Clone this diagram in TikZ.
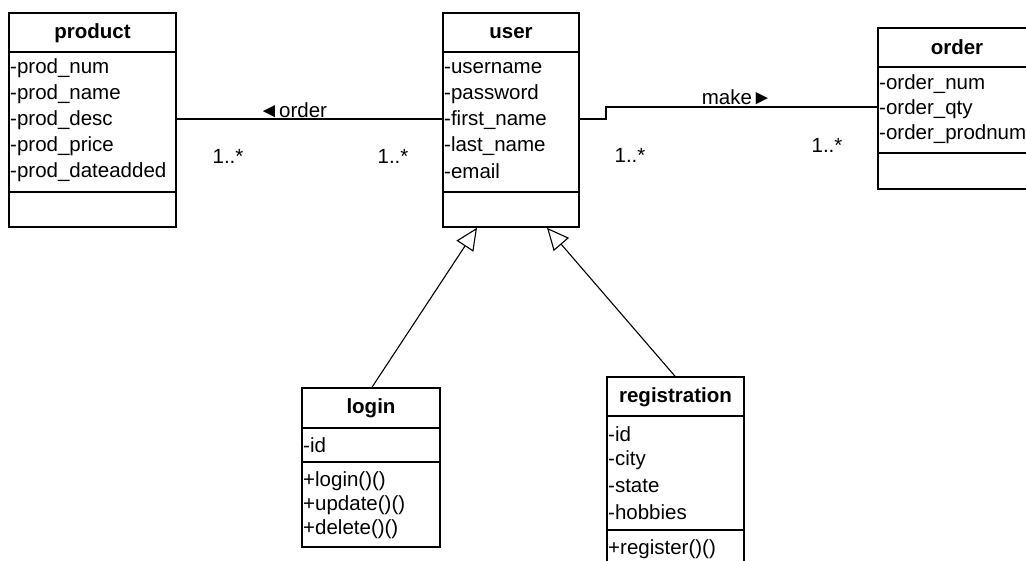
\documentclass[tikz,border=0pt]{standalone}
\usepackage{fontspec}
\setmainfont{Liberation Sans}
\usetikzlibrary{arrows.meta}
\begin{document}
\begin{tikzpicture}[x=1pt,y=-1pt,
  every node/.style={font=\fontsize{20.5}{24}\selectfont, inner sep=0pt},
  classbox/.style={draw, line width=1.6pt, fill=white},
  divider/.style={line width=1.3pt},
  title/.style={font=\fontsize{20.5}{24}\selectfont\bfseries},
  attr/.style={anchor=west},
  assoc/.style={line width=1.1pt},
  gen/.style={line width=1.1pt, -{Triangle[open, length=22pt, width=20pt, fill=white]}}
]
\useasboundingbox (0,0) rectangle (1026,560);

% product
\node[classbox, minimum width=167pt, minimum height=214pt] (product) at (92.5,120) {};
\node[title] (productT) at (92.5,33) {product};
\draw[divider] (product.west |- 0,52) -- (product.east |- 0,52);
\draw[divider] (product.west |- 0,192) -- (product.east |- 0,192);
\node[attr] (p1) at (10,68) {-prod\_num};
\node[attr] (p2) at (10,94) {-prod\_name};
\node[attr] (p3) at (10,120) {-prod\_desc};
\node[attr] (p4) at (10,146) {-prod\_price};
\node[attr] (p5) at (10,172) {-prod\_dateadded};

% user
\node[classbox, minimum width=136pt, minimum height=214pt] (user) at (511,120) {};
\node[title] (userT) at (511,33) {user};
\draw[divider] (user.west |- 0,52) -- (user.east |- 0,52);
\draw[divider] (user.west |- 0,192) -- (user.east |- 0,192);
\node[attr] (u1) at (444,68) {-username};
\node[attr] (u2) at (444,94) {-password};
\node[attr] (u3) at (444,120) {-first\_name};
\node[attr] (u4) at (444,146) {-last\_name};
\node[attr] (u5) at (444,171) {-email};

% order
\node[classbox, minimum width=158pt, minimum height=161pt] (order) at (957,108.5) {};
\node[title] (orderT) at (957,47) {order};
\draw[divider] (order.west |- 0,67) -- (order.east |- 0,67);
\draw[divider] (order.west |- 0,153) -- (order.east |- 0,153);
\node[attr] (o1) at (879,84) {-order\_num};
\node[attr] (o2) at (879,109) {-order\_qty};
\node[attr] (o3) at (879,134) {-order\_prodnum};

% login
\node[classbox, minimum width=138pt, minimum height=159pt] (login) at (371,467.5) {};
\node[title] (loginT) at (371,408) {login};
\draw[divider] (login.west |- 0,428) -- (login.east |- 0,428);
\draw[divider] (login.west |- 0,462) -- (login.east |- 0,462);
\node[attr] (l1) at (303,445) {-id};
\node[attr] (l2) at (303,481) {+login()()};
\node[attr] (l3) at (303,505) {+update()()};
\node[attr] (l4) at (303,529) {+delete()()};

% registration
\node[classbox, minimum width=137pt, minimum height=210pt] (reg) at (675.5,482) {};
\node[title] (regT) at (675.5,397) {registration};
\draw[divider] (reg.west |- 0,416) -- (reg.east |- 0,416);
\draw[divider] (reg.west |- 0,530) -- (reg.east |- 0,530);
\node[attr] (r1) at (608,434) {-id};
\node[attr] (r2) at (608,460) {-city};
\node[attr] (r3) at (608,486) {-state};
\node[attr] (r4) at (608,512) {-hobbies};
\node[attr] (r5) at (608,549) {+register()()};

% associations
\draw[assoc] (product.east |- 0,119) -- (user.west |- 0,119);
\node (orderlbl) at (293,110) {◄order};
\node (m1) at (228,156) {1..*};
\node (m2) at (393,156) {1..*};

\coordinate (k1) at (606,119);
\coordinate (k2) at (606,107);
\draw[assoc] (user.east |- 0,119) -- (k1) -- (k2) -- (order.west |- 0,107);
\node (makelbl) at (737,97) {make►};
\node (m3) at (630,155) {1..*};
\node (m4) at (827,145) {1..*};

% generalizations
\draw[gen] (372,0 |- login.north) -- (477,0 |- user.south);
\draw[gen] (675,0 |- reg.north) -- (547,0 |- user.south);
\end{tikzpicture}
\end{document}
